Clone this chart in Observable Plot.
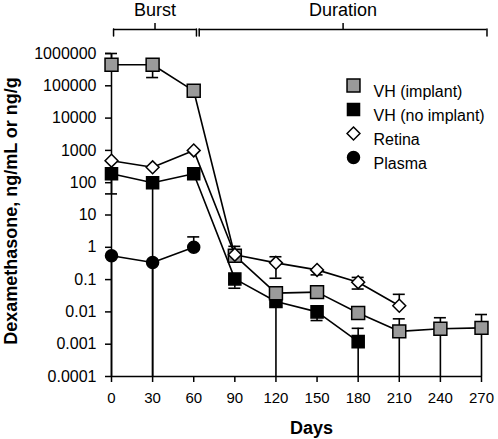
<!DOCTYPE html>
<html><head><meta charset="utf-8">
<script src="https://cdn.jsdelivr.net/npm/d3@7"></script>
<script src="https://cdn.jsdelivr.net/npm/@observablehq/plot@0.6"></script>
<style>html,body{margin:0;padding:0;background:#fff} svg{display:block}</style>
</head><body><div id="chart"></div>
<script>
// ---- data ----
const days = [0, 30, 60, 90, 120, 150, 180, 210, 240, 270];
const seriesNames = ["VH (implant)", "VH (no implant)", "Retina", "Plasma"];

const implantValues = [450000, 450000, 70000, 0.55, 0.038, 0.041, 0.0093, 0.0025, 0.0030, 0.0032];
const implantLo     = [null, 180000, null, null, null, null, null, 0.0001, 0.0001, 0.0001];
const implantHi     = [1000000, null, null, null, null, null, null, 0.0061, 0.0066, 0.0083];

const noImplantValues = [190, 100, 190, 0.105, 0.021, 0.010, 0.0012];
const noImplantLo     = [45, 0.0001, null, 0.054, 0.0001, 0.0054, 0.0001];
const noImplantHi     = [null, null, null, null, null, null, 0.0031];

const retinaValues = [480, 300, 1000, 0.59, 0.33, 0.20, 0.083, 0.0155];
const retinaLo     = [null, null, null, null, 0.11, 0.14, 0.051, null];
const retinaHi     = [null, null, null, 1.07, 0.51, null, 0.117, 0.035];

const plasmaValues = [0.55, 0.34, 1.0];
const plasmaLo     = [0.0001, 0.0001, null];
const plasmaHi     = [null, null, 2.1];

const xTicks = [0, 30, 60, 90, 120, 150, 180, 210, 240, 270];
const yTicks = [0.0001, 0.001, 0.01, 0.1, 1, 10, 100, 1000, 10000, 100000, 1000000];
const yTickLabels = ["0.0001", "0.001", "0.01", "0.1", "1", "10", "100", "1000", "10000", "100000", "1000000"];

const phaseNames = ["Burst", "Duration"];
const phaseStart = [1.5, 64];
const phaseEnd = [62, 274];

const xLabel = "Days";
const yLabel = "Dexamethasone, ng/mL or ng/g";

// ---- styles ----
const styles = [
  {symbol: d3.symbolSquare, r: 7.3, fill: "#9a9a9a"},
  {symbol: d3.symbolSquare, r: 6.8, fill: "#000000"},
  {symbol: d3.symbolDiamond2, r: 5.8, fill: "#ffffff"},
  {symbol: d3.symbolCircle, r: 6, fill: "#000000"}
];
const seriesData = [
  [implantValues, implantLo, implantHi],
  [noImplantValues, noImplantLo, noImplantHi],
  [retinaValues, retinaLo, retinaHi],
  [plasmaValues, plasmaLo, plasmaHi]
];
const rows = seriesData.map(([vals, lo, hi], si) =>
  vals.map((v, j) => ({series: seriesNames[si], day: days[j], value: v, lo: lo[j], hi: hi[j]})));

const yDomain = [0.0001, 1000000];
const phases = phaseNames.map((name, i) => ({name, start: phaseStart[i], end: phaseEnd[i], mid: (phaseStart[i] + phaseEnd[i]) / 2, top: yDomain[1]}));
const phaseEnds = phases.flatMap(p => [{x: p.start, top: p.top}, {x: p.end, top: p.top}]);
const yTickRows = yTicks.map((v, i) => ({v, label: yTickLabels[i]}));

const SW = 1.6;
const marks = [];
rows.forEach(r => marks.push(Plot.line(r, {x: "day", y: "value", stroke: "black", strokeWidth: SW})));
const drawOrder = [1, 0, 2, 3];
drawOrder.forEach(si => {
  const r = rows[si];
  const loRows = r.filter(d => d.lo != null);
  const hiRows = r.filter(d => d.hi != null);
  marks.push(Plot.ruleX(loRows, {x: "day", y1: "lo", y2: "value", stroke: "black", strokeWidth: SW}));
  marks.push(Plot.ruleX(hiRows, {x: "day", y1: "value", y2: "hi", stroke: "black", strokeWidth: SW}));
  marks.push(Plot.ruleY(loRows.filter(d => d.lo > yDomain[0]), {y: "lo", x1: "day", x2: "day", insetLeft: -6, insetRight: -6, stroke: "black", strokeWidth: SW}));
  marks.push(Plot.ruleY(hiRows, {y: "hi", x1: "day", x2: "day", insetLeft: -6, insetRight: -6, stroke: "black", strokeWidth: SW}));
});
drawOrder.forEach(si => {
  marks.push(Plot.dot(rows[si], {x: "day", y: "value", symbol: () => styles[si].symbol, r: styles[si].r, fill: styles[si].fill, stroke: "black", strokeWidth: 1.5}));
});

const chart = Plot.plot({
  width: 498, height: 439,
  marginLeft: 111, marginRight: 17, marginTop: 53, marginBottom: 63,
  style: {fontFamily: "'Liberation Sans', Arial, sans-serif", fontSize: "15px", color: "black", background: "white", overflow: "visible"},
  x: {domain: [0, 270]},
  y: {type: "log", domain: yDomain, axis: null},
  symbol: {type: "identity"},
  marks: [
    Plot.axisX(xTicks, {tickSize: 6, tickPadding: 10, strokeWidth: 1.5, fontSize: 15, label: null}),
    Plot.ruleY(yTickRows, {y: "v", x1: 0, x2: 0, insetLeft: -6, stroke: "black", strokeWidth: 1.5}),
    Plot.text(yTickRows, {y: "v", frameAnchor: "left", text: "label", textAnchor: "end", dx: -15, fontSize: 16}),
    Plot.ruleX([0], {stroke: "black", strokeWidth: 1.5}),
    Plot.ruleY([yDomain[0]], {stroke: "black", strokeWidth: 1.5}),
    ...marks,
    Plot.ruleY(phases, {y: "top", x1: "start", x2: "end", dy: -24, stroke: "black", strokeWidth: 1.5}),
    Plot.ruleX(phaseEnds, {x: "x", y1: "top", y2: "top", dy: -24, insetBottom: -7, stroke: "black", strokeWidth: 1.5, strokeLinecap: "round"}),
    Plot.ruleX(phases, {x: "mid", y1: "top", y2: "top", dy: -24, insetTop: -6, stroke: "black", strokeWidth: 1.5}),
    Plot.text(phases, {x: "mid", y: "top", text: "name", dy: -43, fontSize: 18}),
    Plot.text([xLabel], {frameAnchor: "bottom", dy: 57, dx: 15, fontSize: 18, fontWeight: "bold"}),
    Plot.text([yLabel], {frameAnchor: "left", textAnchor: "middle", dx: -100, dy: -4, rotate: -90, fontSize: 18, fontWeight: "bold"}),
    ...seriesNames.flatMap((name, i) => [
      Plot.dot([name], {frameAnchor: "top-left", dx: 242, dy: 32 + i * 24, symbol: () => styles[i].symbol, r: styles[i].r, fill: styles[i].fill, stroke: "black", strokeWidth: 1.5}),
      Plot.text([name], {frameAnchor: "top-left", dx: 262, dy: 32 + i * 24, text: d => d, textAnchor: "start", fontSize: 16})
    ])
  ]
});
document.getElementById("chart").appendChild(chart);
</script>
</body></html>
